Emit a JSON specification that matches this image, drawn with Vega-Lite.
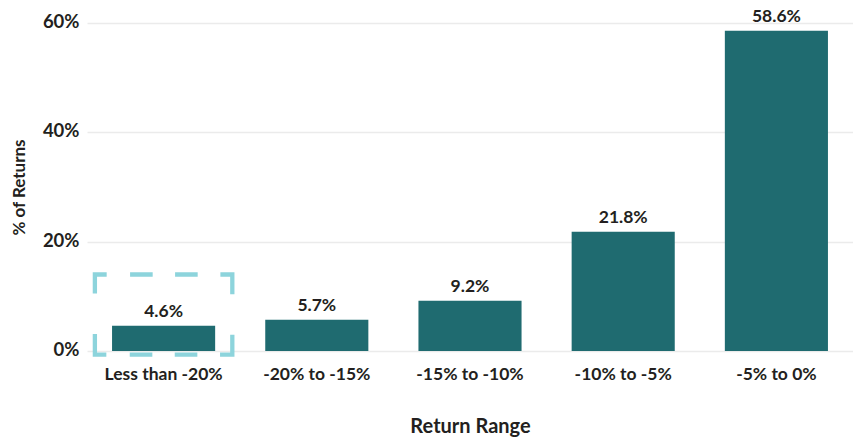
{
  "$schema": "https://vega.github.io/schema/vega-lite/v6.json",
  "width": 766,
  "height": 328,
  "autosize": {"type": "none"},
  "padding": {"left": 87, "top": 23, "right": 0, "bottom": 86},
  "background": "white",
  "config": {
    "view": {"stroke": null},
    "font": "Lato",
    "axis": {"labelFont": "Lato", "titleFont": "Lato"}
  },
  "data": {
    "values": [
      {"range": "Less than -20%", "share": 0.046},
      {"range": "-20% to -15%", "share": 0.057},
      {"range": "-15% to -10%", "share": 0.092},
      {"range": "-10% to -5%", "share": 0.218},
      {"range": "-5% to 0%", "share": 0.586}
    ]
  },
  "encoding": {
    "x": {
      "field": "range",
      "type": "nominal",
      "sort": null,
      "scale": {"paddingInner": 0.327, "paddingOuter": 0.1635},
      "axis": {
        "title": "Return Range",
        "labelAngle": 0,
        "labelFontSize": 17.5,
        "labelFontWeight": "bold",
        "labelColor": "#231f20",
        "labelPadding": 14,
        "ticks": false,
        "domain": false,
        "titleFontSize": 20,
        "titleFontWeight": "bold",
        "titleColor": "#231f20",
        "titleBaseline": "alphabetic",
        "titleY": 81
      }
    }
  },
  "layer": [
    {
      "mark": {"type": "bar", "color": "#1f6b70"},
      "encoding": {
        "y": {
          "field": "share",
          "type": "quantitative",
          "scale": {"domain": [0, 0.6]},
          "axis": {
            "title": "% of Returns",
            "format": ".0%",
            "values": [0, 0.2, 0.4, 0.6],
            "labelFontSize": 18.5,
            "labelFontWeight": "bold",
            "labelColor": "#231f20",
            "labelPadding": 8,
            "labelBaseline": "alphabetic",
            "labelOffset": 4.5,
            "ticks": false,
            "domain": false,
            "gridColor": "#ebebeb",
            "gridWidth": 1.5,
            "titleFontSize": 17,
            "titleFontWeight": "bold",
            "titleColor": "#231f20",
            "titleBaseline": "alphabetic",
            "titleX": -63
          }
        }
      }
    },
    {
      "mark": {
        "type": "text",
        "baseline": "alphabetic",
        "dy": -9,
        "fontSize": 17.5,
        "fontWeight": "bold",
        "color": "#231f20"
      },
      "encoding": {
        "y": {"field": "share", "type": "quantitative"},
        "text": {"field": "share", "type": "quantitative", "format": ".1%"}
      }
    },
    {
      "transform": [{"filter": "datum.range === 'Less than -20%'"}],
      "mark": {
        "type": "bar",
        "fill": null,
        "fillOpacity": 0,
        "stroke": "#8dd4dc",
        "strokeWidth": 4.3,
        "strokeDash": [11.8, 23.4, 22.6, 22.4, 22.6, 22.7, 31.7, 40.4, 32.2, 22.7, 22.6, 22.4, 22.6, 23.4, 32.1, 40.4, 19.8, 0],
        "width": {"band": 1.333}
      },
      "encoding": {
        "y": {"datum": 0.1399},
        "y2": {"datum": -0.0066}
      }
    }
  ]
}
